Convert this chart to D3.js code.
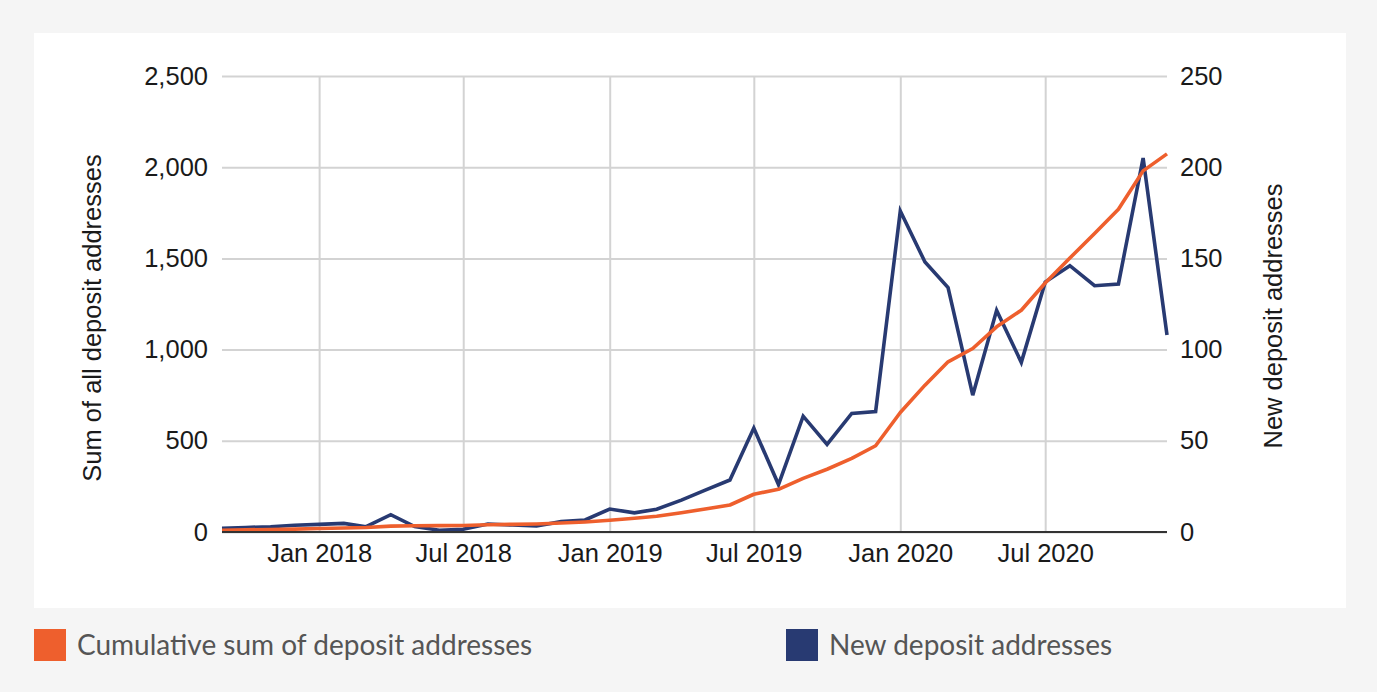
<!DOCTYPE html>
<html>
<head>
<meta charset="utf-8">
<script src="https://cdn.jsdelivr.net/npm/d3@7"></script>
<style>
  html, body { margin: 0; padding: 0; background: #f5f5f5; }
  svg { display: block; }
  .ax text, .ttl { font-family: "Liberation Sans", Arimo, Arial, sans-serif; }
  .leg { font-family: Lato, "Open Sans", sans-serif; }
</style>
</head>
<body>
<svg id="chart" width="1377" height="692"></svg>
<script>
const months = ["2017-09","2017-10","2017-11","2017-12","2018-01","2018-02","2018-03","2018-04","2018-05","2018-06",
  "2018-07","2018-08","2018-09","2018-10","2018-11","2018-12","2019-01","2019-02","2019-03","2019-04",
  "2019-05","2019-06","2019-07","2019-08","2019-09","2019-10","2019-11","2019-12","2020-01","2020-02",
  "2020-03","2020-04","2020-05","2020-06","2020-07","2020-08","2020-09","2020-10","2020-11","2020-12"];
const cumulative = [10,12,14,16,19,22,25,32,34,35,
  36,40,42,44,49,55,64,75,86,106,
  126,148,207,234,294,344,404,473,655,805,
  933,1006,1125,1216,1365,1502,1637,1769,1980,2073];
const newAddresses = [2,2.5,2.9,3.7,4.2,4.7,2.9,9.5,3,1,
  1.5,4.4,3.8,3.3,5.7,6.6,12.6,10.5,12.5,17.5,
  23,28.5,57,26,63.5,48,65,66,176,148,
  134,75,121.5,93,137,146,135,136,205,108];
const leftTicks = [0,500,1000,1500,2000,2500];
const rightTicks = [0,50,100,150,200,250];
const xTickDates = ["2018-01","2018-07","2019-01","2019-07","2020-01","2020-07"];
const seriesNames = ["Cumulative sum of deposit addresses","New deposit addresses"];
const colors = ["#ee5f2d","#283a72"];

const parse = d3.timeParse("%Y-%m");
const fmtX = d3.timeFormat("%b %Y");
const svg = d3.select("#chart");

svg.append("rect").attr("x",0).attr("y",0).attr("width",1377).attr("height",692).attr("fill","#f5f5f5");
svg.append("rect").attr("x",34).attr("y",33).attr("width",1312).attr("height",575).attr("fill","#ffffff");

const x = d3.scaleTime().domain([parse(months[0]), parse(months[months.length-1])]).range([222,1167]);
const yL = d3.scaleLinear().domain([0,2500]).range([532,76]);
const yR = d3.scaleLinear().domain([0,250]).range([532,76]);

const FS = 25.5;

// horizontal grid
const gH = svg.append("g")
  .attr("transform","translate(222,0)")
  .call(d3.axisLeft(yL).tickValues(leftTicks).tickSize(-945).tickFormat(""));
gH.select(".domain").remove();
gH.selectAll("line").attr("stroke","#d3d3d3").attr("stroke-width",2);

// vertical grid
const gV = svg.append("g")
  .attr("transform","translate(0,532)")
  .call(d3.axisBottom(x).tickValues(xTickDates.map(parse)).tickSize(-456).tickFormat(""));
gV.select(".domain").remove();
gV.selectAll("line").attr("stroke","#d3d3d3").attr("stroke-width",2);

function styleAxis(g){
  g.attr("class","ax").attr("font-family",null).attr("font-size",null);
  g.select(".domain").remove();
  g.selectAll("text").style("font-size",FS+"px").attr("fill","#1a1a1a");
}

// left axis labels
const gL = svg.append("g")
  .attr("transform","translate(222,0)")
  .call(d3.axisLeft(yL).tickValues(leftTicks).tickSize(0).tickPadding(14).tickFormat(d3.format(",")));
styleAxis(gL);

// right axis labels
const gR = svg.append("g")
  .attr("transform","translate(1167,0)")
  .call(d3.axisRight(yR).tickValues(rightTicks).tickSize(0).tickPadding(13).tickFormat(d3.format(",")));
styleAxis(gR);

// bottom axis labels
const gB = svg.append("g")
  .attr("transform","translate(0,532)")
  .call(d3.axisBottom(x).tickValues(xTickDates.map(parse)).tickSize(0).tickPadding(12).tickFormat(fmtX));
styleAxis(gB);

// axis titles
svg.append("text").attr("class","ttl")
  .attr("transform","translate(101,318) rotate(-90)")
  .attr("text-anchor","middle")
  .style("font-size",FS+"px").attr("fill","#1a1a1a")
  .text("Sum of all deposit addresses");
svg.append("text").attr("class","ttl")
  .attr("transform","translate(1282,316) rotate(-90)")
  .attr("text-anchor","middle")
  .style("font-size",FS+"px").attr("fill","#1a1a1a")
  .text("New deposit addresses");

// lines
const dNew = months.map((m,i)=>({d:parse(m), v:newAddresses[i]}));
const dCum = months.map((m,i)=>({d:parse(m), v:cumulative[i]}));

svg.append("path").datum(dNew)
  .attr("fill","none").attr("stroke",colors[1]).attr("stroke-width",3.6).attr("stroke-linejoin","miter")
  .attr("d", d3.line().x(d=>x(d.d)).y(d=>yR(d.v)));
svg.append("path").datum(dCum)
  .attr("fill","none").attr("stroke",colors[0]).attr("stroke-width",3.6).attr("stroke-linejoin","round")
  .attr("d", d3.line().x(d=>x(d.d)).y(d=>yL(d.v)));

// baseline
svg.append("line").attr("x1",222).attr("x2",1167).attr("y1",yL(0)).attr("y2",yL(0))
  .attr("stroke","#333").attr("stroke-width",2);

// legend
const legX = [34, 786];
const leg = svg.append("g");
seriesNames.forEach((name,i)=>{
  leg.append("rect").attr("x",legX[i]).attr("y",629).attr("width",32).attr("height",32).attr("fill",colors[i]);
  leg.append("text").attr("class","leg").attr("x",legX[i]+43).attr("y",645).attr("dy","0.35em")
    .style("font-size","28px").attr("fill","#555")
    .text(name);
});
</script>
</body>
</html>
